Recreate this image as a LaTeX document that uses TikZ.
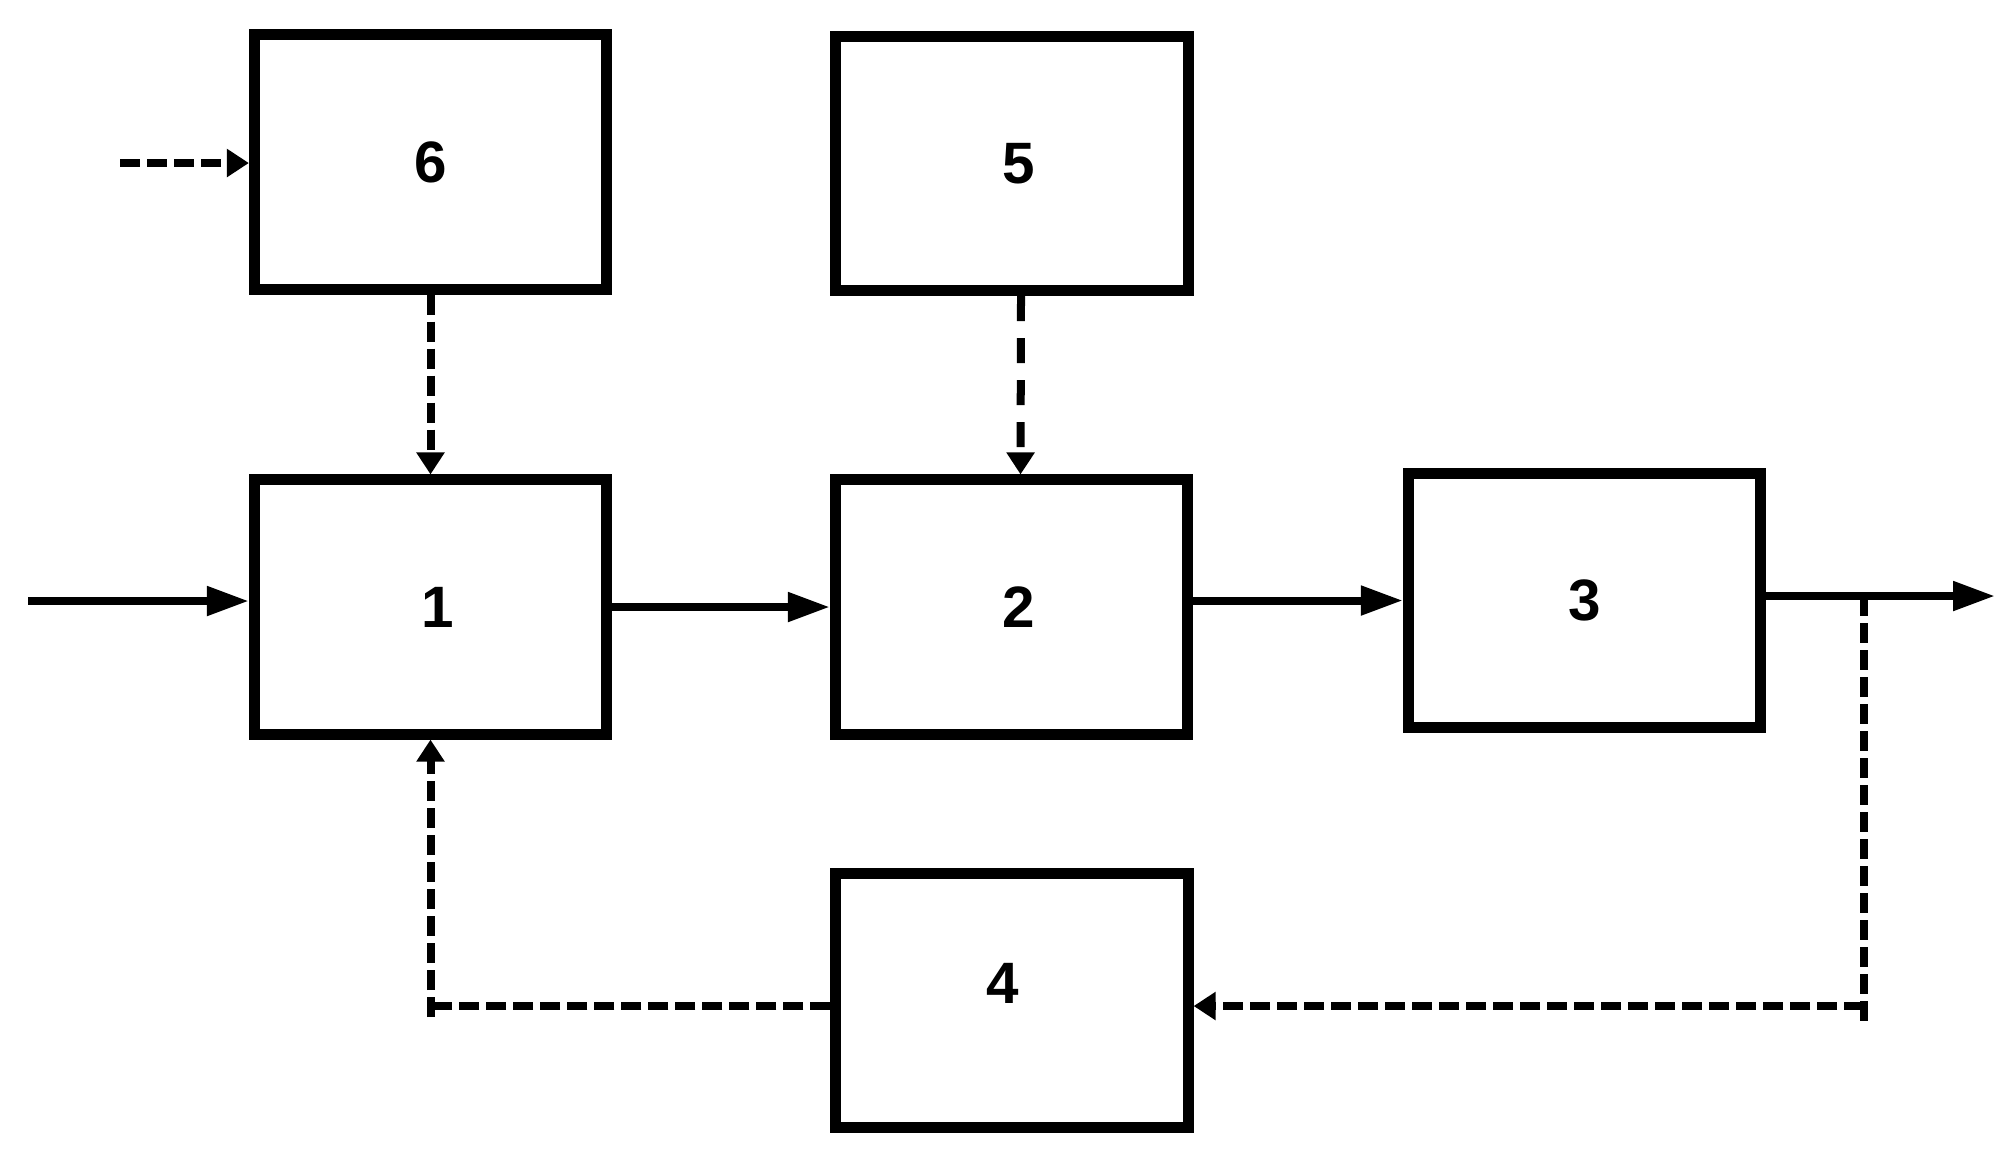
\documentclass[tikz,border=0pt]{standalone}
\usepackage{fontspec}
\setmainfont{Liberation Sans}
\usetikzlibrary{arrows.meta}
\tikzset{
    block/.style={draw, line width=0.11cm, minimum width=3.52cm, minimum height=2.54cm,
        font=\fontsize{16.6}{20}\selectfont\bfseries},
    flow/.style={line width=0.08cm, -{Triangle[length=0.42cm,width=0.28cm]}},
    ctrl/.style={line width=0.08cm, dash pattern=on 0.2cm off 0.07cm,
        -{Triangle[length=0.22cm,width=0.27cm]}},
}

\begin{document}
\begin{tikzpicture}[x=0.01cm, y=-0.01cm]
    \useasboundingbox (0,0) rectangle (2004,1156);
    \node[block] (b6) at (430.5,162) {6};
    \node[block] (b5) at (1012,163.5) {\hspace{0.14cm}5};
    \node[block] (b1) at (430.5,607) {\hspace{0.14cm}1};
    \node[block] (b2) at (1011.5,607) {\hspace{0.14cm}2};
    \node[block] (b3) at (1584.5,600.5) {3};
    \node[block] (b4) at (1012,1000.5) {\raisebox{0.34cm}{4}\kern0.18cm};
    \coordinate (in) at (28,601);
    \coordinate (out) at (1995,596);
    \coordinate (src) at (120,163);
    \coordinate (tap) at (1864,596);
    \coordinate (tapend) at (1864,1023);
    \coordinate (corner) at (1864,1006);
    \coordinate (ret) at (430.5,1017);
    % main line
    \draw[flow] (in) -- (in -| b1.west);
    \draw[flow] (b1) -- (b2);
    \draw[flow] (b2.east |- b3.west) -- (b3.west);
    \draw[flow] (b3.east |- out) -- (out);
    % control lines
    \draw[ctrl] (src) -- (src -| b6.west);
    \draw[ctrl] (b6) -- (b1);
    \draw[ctrl, dash pattern=on 0.25cm off 0.17cm] ([xshift=0.09cm]b5.south) -- ([xshift=0.09cm]b2.north);
    \draw[ctrl,-] (tap) -- (tapend);
    \draw[ctrl] (corner) -- (corner -| b4.east);
    \draw[ctrl,-] (b4.west |- corner) -- (ret |- corner);
    \draw[ctrl] (ret) -- (b1.south);
\end{tikzpicture}
\end{document}
